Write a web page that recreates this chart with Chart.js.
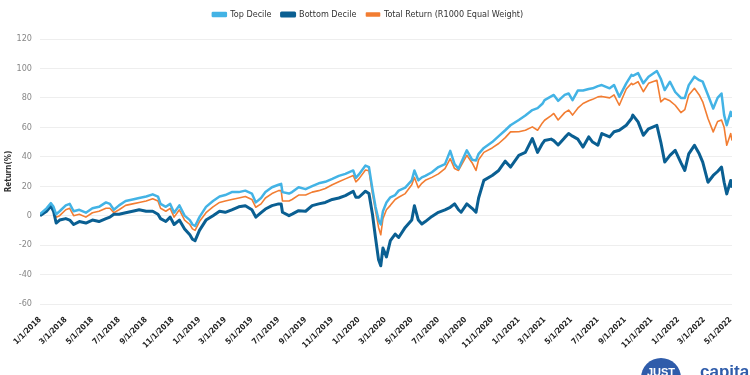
<!DOCTYPE html>
<html>
<head>
<meta charset="utf-8">
<script src="https://cdn.jsdelivr.net/npm/chart.js@4"></script>
<style>
  body { margin: 0; background: #fff; }
  #wrap { position: relative; width: 750px; height: 375px; overflow: hidden; }
  #logo { position: absolute; left: 641px; top: 358px; width: 40px; height: 40px; border-radius: 50%;
          background: #2f5caa; color: #fff; font: bold 11px "Liberation Sans", Arial, sans-serif; text-align: center; line-height: 28px; }
  #logoText { position: absolute; left: 700px; top: 362px; color: #2f5caa; font: bold 17px "Liberation Sans", Arial, sans-serif; }
</style>
</head>
<body>
<div id="wrap">
  <canvas id="chart" width="750" height="375"></canvas>
  <div id="logo">JUST</div>
  <div id="logoText">capital</div>
</div>
<script>
// dates of each point
const dates = [
  '2018-01-01','2018-01-16','2018-01-26','2018-02-01','2018-02-07','2018-02-15','2018-03-01','2018-03-10','2018-03-19',
  '2018-04-01','2018-04-16','2018-05-01','2018-05-16','2018-06-01','2018-06-10','2018-06-19','2018-07-01','2018-07-16',
  '2018-08-01','2018-08-16','2018-09-01','2018-09-16','2018-09-28','2018-10-04','2018-10-16','2018-10-26','2018-11-04',
  '2018-11-16','2018-11-28','2018-12-10','2018-12-16','2018-12-22',
  '2019-01-01','2019-01-16','2019-02-01','2019-02-16','2019-03-01','2019-03-16','2019-04-01','2019-04-16','2019-05-01',
  '2019-05-10','2019-05-22','2019-06-01','2019-06-16','2019-07-01','2019-07-07','2019-07-10','2019-07-25','2019-08-01',
  '2019-08-16','2019-09-01','2019-09-16','2019-10-01','2019-10-16','2019-11-01','2019-11-16','2019-12-01','2019-12-19',
  '2019-12-25',
  '2020-01-01','2020-01-16','2020-01-24','2020-02-01','2020-02-08','2020-02-15','2020-02-20','2020-02-25','2020-03-04',
  '2020-03-13','2020-03-24','2020-04-01','2020-04-16','2020-05-01','2020-05-07','2020-05-16','2020-05-24','2020-06-01',
  '2020-06-16','2020-07-01','2020-07-16','2020-07-28','2020-08-07','2020-08-16','2020-08-22','2020-09-04','2020-09-16',
  '2020-09-25','2020-10-01','2020-10-13','2020-11-01','2020-11-16','2020-12-01','2020-12-13',
  '2021-01-01','2021-01-16','2021-02-01','2021-02-13','2021-02-24','2021-03-01','2021-03-16','2021-03-22','2021-04-01',
  '2021-04-16','2021-04-25','2021-05-04','2021-05-16','2021-05-28','2021-06-10','2021-06-19','2021-07-01','2021-07-10',
  '2021-07-28','2021-08-07','2021-08-19','2021-09-04','2021-09-16','2021-09-19','2021-10-01','2021-10-13','2021-10-25',
  '2021-11-13','2021-11-22','2021-12-01','2021-12-13','2021-12-25',
  '2022-01-07','2022-01-16','2022-01-25','2022-02-07','2022-02-18','2022-02-26','2022-03-10','2022-03-22','2022-04-01',
  '2022-04-10','2022-04-16','2022-04-22','2022-05-01','2022-05-04'
];

const topDecile = [
  1, 5, 8.5, 6, 1, 3, 7, 8, 3,
  4, 2, 5, 6, 9, 8, 4, 7, 10,
  11, 12, 13, 14.5, 13, 8, 6, 8, 2,
  7, 0, -3, -6, -7,
  -1, 6, 10, 13, 14, 16, 16, 17, 15,
  9, 12, 16, 19.3, 21, 21.6, 16, 15, 16,
  19.3, 18, 20, 22, 23, 25, 27, 28.4, 30.7,
  25.7,
  28, 34, 33, 18, 6, -3, -6, 3, 9,
  12.5, 14, 17, 19, 24, 30.7, 24, 26, 27,
  29.5, 33, 35, 44, 35, 31.9, 36, 44.4, 38,
  37.5, 42, 46, 50, 54, 58, 61.4,
  65, 68, 71.7, 73, 76, 78.5, 81, 82, 78,
  82, 83, 78.5, 85, 85, 86, 86.5, 88, 88.7,
  86.5, 88.7, 80.7, 89.9, 95.6, 95, 96.8, 89.9, 94.4,
  98.3, 93, 85.3, 91, 84,
  80, 80, 88.7, 94.4, 92, 91, 82, 72.8, 80,
  83, 68.3, 61.4, 70.5, 67
];

const bottomDecile = [
  0, 3, 6.5, 3, -5, -3, -2, -3, -6,
  -4, -5, -3, -4, -2, -1, 1, 1, 2,
  3, 4, 3, 3, 1, -2, -4, -1, -6,
  -3, -9, -13, -16, -17,
  -10, -3, 0, 3, 2.3, 4, 6, 6.8, 4,
  -1, 2, 4.5, 6.8, 8, 8, 2.3, 0, 1,
  3.4, 3, 6.8, 8, 9, 11, 12, 13.6, 16.6,
  12.5,
  12.5, 16.6, 15, 1, -15, -30, -34, -22, -28,
  -17, -12.5, -14.8, -8, -3, 6.8, -3, -5.7, -4,
  -0.5, 2.3, 4, 5.7, 8, 4, 2.3, 8, 5,
  2.3, 12, 24, 27.3, 30.7, 37, 33,
  41, 43, 52.4, 43, 49, 51, 52, 51, 48,
  53, 55.8, 54, 52, 46.6, 53.5, 50, 47.8, 55.8,
  53.5, 57, 58, 61.4, 66, 68.3, 63.7, 54.6, 59,
  61.4, 50, 36.4, 41, 44.4,
  36, 30.7, 42, 47.8, 42, 36.4, 22.7, 27.3, 30,
  33, 22.7, 14.8, 23.9, 19
];

const totalReturn = [
  1, 4, 7, 4.5, -1, 0, 4, 5, 0,
  1, -1, 2, 3, 5, 5, 2, 4, 7,
  8, 9, 10, 11.5, 10, 5, 3, 5, -1,
  4, -3, -6, -9, -10,
  -4, 2, 6, 9, 10, 11, 12, 13, 11,
  5.7, 8, 12, 15, 17, 17, 10, 10, 11,
  14, 14, 16, 17, 18.5, 21, 23, 25, 27.3,
  23,
  25, 31, 30.5, 15, 3.5, -8, -13, -2, 4,
  7, 11, 12.5, 15, 21, 26, 19, 22, 24,
  26, 28.4, 32, 38.7, 32, 30.7, 34, 41, 36,
  30.7, 38, 43, 46, 49, 53, 56.9,
  57, 58, 60.3, 58, 63, 64.8, 68, 69.4, 65,
  70, 71.7, 68.3, 73, 76.2, 78, 79, 80.7, 81,
  80, 82, 75, 86, 89.9, 89, 91, 84.2, 89.9,
  92, 77.3, 79.6, 78, 75,
  70, 72, 82, 86.5, 82, 77.3, 66, 56.9, 64,
  65, 60, 47.8, 55.8, 51
];

const tickLabels = [
  '1/1/2018','3/1/2018','5/1/2018','7/1/2018','9/1/2018','11/1/2018',
  '1/1/2019','3/1/2019','5/1/2019','7/1/2019','9/1/2019','11/1/2019',
  '1/1/2020','3/1/2020','5/1/2020','7/1/2020','9/1/2020','11/1/2020',
  '1/1/2021','3/1/2021','5/1/2021','7/1/2021','9/1/2021','11/1/2021',
  '1/1/2022','3/1/2022','5/1/2022'
];

function isoTime(s) {
  const p = s.split('-');
  return Date.UTC(+p[0], +p[1] - 1, +p[2]);
}
function mdyTime(s) {
  const p = s.split('/');
  return Date.UTC(+p[2], +p[0] - 1, +p[1]);
}

const xs = dates.map(isoTime);
const toPoints = vals => vals.map((v, i) => ({ x: xs[i], y: v }));

const condensed = "'Liberation Sans Narrow', 'DejaVu Sans Condensed', 'Liberation Sans', sans-serif";

// a bit more room under the legend
const legendGap = {
  id: 'legendGap',
  beforeInit(chart) {
    const fit = chart.legend.fit;
    chart.legend.fit = function () {
      fit.call(this);
      this.height += 10;
    };
  }
};

new Chart(document.getElementById('chart'), {
  type: 'line',
  data: {
    datasets: [
      { label: 'Top Decile', data: toPoints(topDecile), borderColor: '#43b3e5', backgroundColor: '#43b3e5', borderWidth: 2.5 },
      { label: 'Bottom Decile', data: toPoints(bottomDecile), borderColor: '#0a5f92', backgroundColor: '#0a5f92', borderWidth: 3 },
      { label: 'Total Return (R1000 Equal Weight)', data: toPoints(totalReturn), borderColor: '#f27d32', backgroundColor: '#f27d32', borderWidth: 1.6 }
    ]
  },
  plugins: [legendGap],
  options: {
    responsive: false,
    animation: false,
    parsing: false,
    elements: { point: { radius: 0 }, line: { tension: 0, borderJoinStyle: 'round' } },
    layout: { padding: { left: 4, right: 18, top: 0, bottom: 0 } },
    plugins: {
      legend: {
        position: 'top',
        labels: {
          boxWidth: 13, boxHeight: 3, padding: 10,
          color: '#333', font: { family: condensed, size: 9 }
        }
      },
      tooltip: { enabled: false }
    },
    scales: {
      x: {
        type: 'linear',
        min: xs[0],
        max: xs[xs.length - 1],
        afterFit: scale => { scale.height = 71; },
        grid: { display: false },
        border: { display: false },
        afterBuildTicks: scale => { scale.ticks = tickLabels.map(t => ({ value: mdyTime(t) })); },
        ticks: {
          autoSkip: false, maxRotation: 45, minRotation: 45,
          color: '#222', font: { family: condensed, size: 8, weight: 'bold' },
          callback: (v, i) => tickLabels[i]
        }
      },
      y: {
        min: -60, max: 120,
        afterFit: scale => { scale.width = 36; },
        grid: { color: '#eeeeee', drawTicks: false },
        border: { display: false },
        ticks: { stepSize: 20, padding: 8, color: '#888', font: { family: condensed, size: 9 } },
        title: { display: true, text: 'Return(%)', color: '#333', padding: 0, font: { family: condensed, size: 8, weight: 'bold' } }
      }
    }
  }
});
</script>
</body>
</html>
